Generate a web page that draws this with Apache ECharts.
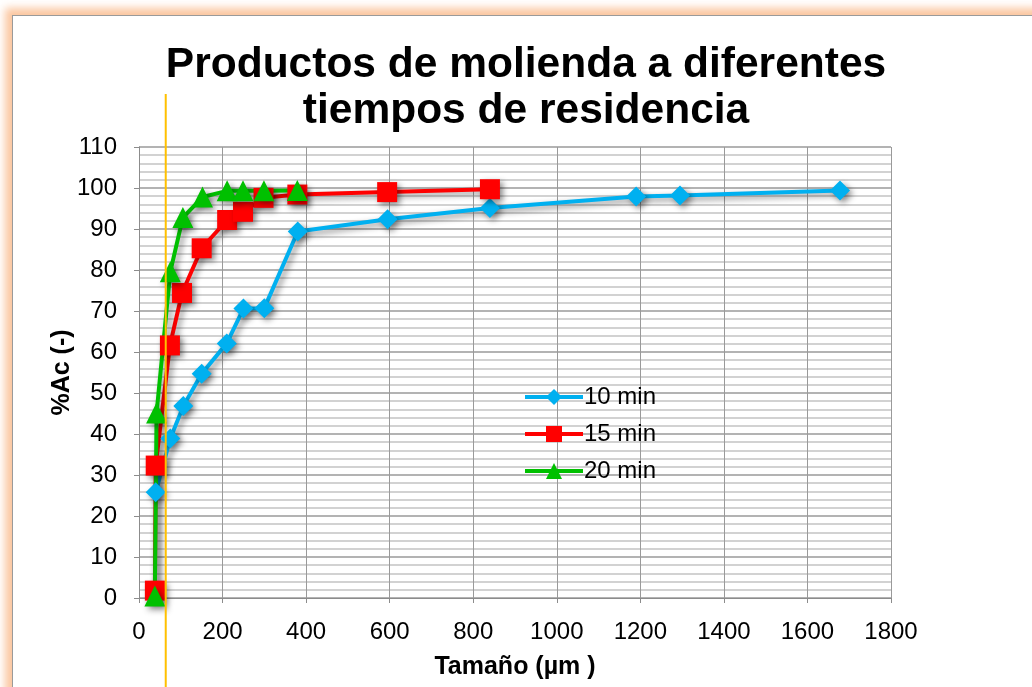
<!DOCTYPE html>
<html>
<head>
<meta charset="utf-8">
<script src="https://cdn.jsdelivr.net/npm/echarts@6/dist/echarts.min.js"></script>
<style>
  html, body { margin: 0; padding: 0; background: #fff; overflow: hidden; }
  .frame {
    position: absolute; left: 12px; top: 15px; width: 1030px; height: 700px;
    border: 1px solid #9a9a9a; background: #fff;
    box-shadow: 0 0 8px 7px rgba(250, 180, 130, 0.75);
  }
  #chart { position: absolute; left: 0; top: 0; width: 1032px; height: 687px; }
</style>
</head>
<body>
<div class="frame"></div>
<div id="chart"></div>
<script>
// tamaño (µm) y %Ac por tiempo de residencia
const size10 = [40, 75, 106, 150, 210, 250, 300, 380, 595, 840, 1190, 1295, 1678];
const ac10 = [25.8, 38.9, 46.8, 54.7, 62.1, 70.6, 70.7, 89.4, 92.4, 95.1, 97.9, 98.2, 99.4];

const size15 = [38, 40, 74, 103, 150, 211, 249, 298, 379, 594, 840];
const ac15 = [1.8, 32.3, 61.6, 74.4, 85.3, 92.2, 94.2, 97.6, 98.4, 99.0, 99.7];

const size20 = [38, 42, 75, 105, 152, 211, 249, 299, 379];
const ac20 = [0.5, 45.1, 79.6, 92.8, 97.8, 99.3, 99.3, 99.3, 99.4];

const cutSize = 64; // línea vertical naranja

const xTicks = [0, 200, 400, 600, 800, 1000, 1200, 1400, 1600, 1800];
const yTicks = [0, 10, 20, 30, 40, 50, 60, 70, 80, 90, 100, 110];

const pairs = (xs, ys) => xs.map((x, i) => [x, ys[i]]);

const chart = echarts.init(document.getElementById('chart'));

const font = 'Liberation Sans, Arial, sans-serif';
const shadow = {
  shadowColor: 'rgba(0,0,0,0.45)',
  shadowBlur: 6,
  shadowOffsetX: 3,
  shadowOffsetY: 3
};

const option = {
  backgroundColor: 'transparent',
  animation: false,
  title: {
    text: 'Productos de molienda a diferentes\ntiempos de residencia',
    left: 521,
    top: 37,
    textAlign: 'center',
    textStyle: {
      fontFamily: font,
      fontSize: 42.5,
      fontWeight: 'bold',
      color: '#000',
      lineHeight: 46
    }
  },
  grid: {
    left: 139,
    right: 141,
    top: 147,
    bottom: 89
  },
  legend: {
    orient: 'vertical',
    left: 518,
    top: 380,
    itemWidth: 58,
    itemHeight: 20,
    itemGap: 13,
    lineStyle: { width: 4 },
    textStyle: { fontFamily: font, fontSize: 24, color: '#000', padding: [0, 0, 0, -4] },
    data: ['10 min', '15 min', '20 min']
  },
  xAxis: {
    type: 'value',
    min: xTicks[0],
    max: xTicks[xTicks.length - 1],
    interval: 200,
    name: 'Tamaño (µm )',
    nameLocation: 'middle',
    nameGap: 57,
    nameMoveOverlap: false,
    nameTextStyle: { fontFamily: font, fontSize: 25, fontWeight: 'bold', color: '#000' },
    axisLine: { show: true, lineStyle: { color: '#8c8c8c', width: 1 } },
    axisTick: { show: true, length: 5, lineStyle: { color: '#8c8c8c' } },
    axisLabel: {
      fontFamily: font, fontSize: 24, color: '#000', margin: 22,
      formatter: v => String(v)
    },
    splitLine: { show: true, lineStyle: { color: '#9a9a9a', width: 1 } }
  },
  yAxis: {
    type: 'value',
    min: yTicks[0],
    max: yTicks[yTicks.length - 1],
    interval: 10,
    name: '%Ac (-)',
    nameLocation: 'middle',
    nameGap: 64,
    nameMoveOverlap: false,
    nameTextStyle: { fontFamily: font, fontSize: 25, fontWeight: 'bold', color: '#000' },
    axisLine: { show: true, lineStyle: { color: '#8c8c8c', width: 1 } },
    axisTick: { show: true, length: 5, lineStyle: { color: '#8c8c8c' } },
    axisLabel: { fontFamily: font, fontSize: 24, color: '#000', margin: 22 },
    splitLine: { show: true, lineStyle: { color: '#9a9a9a', width: 1.5 } },
    minorTick: { show: false, splitNumber: 5 },
    minorSplitLine: { show: true, lineStyle: { color: '#c4c4c4', width: 1.5 } }
  },
  series: [
    {
      name: '10 min',
      type: 'line',
      data: pairs(size10, ac10),
      symbol: 'diamond',
      symbolSize: 20,
      color: '#00b0f0',
      lineStyle: Object.assign({ width: 4, color: '#00b0f0' }, shadow),
      itemStyle: Object.assign({ color: '#00b0f0' }, shadow)
    },
    {
      name: '15 min',
      type: 'line',
      data: pairs(size15, ac15),
      symbol: 'rect',
      symbolSize: 20,
      color: '#ff0000',
      lineStyle: Object.assign({ width: 4, color: '#ff0000' }, shadow),
      itemStyle: Object.assign({ color: '#ff0000' }, shadow)
    },
    {
      name: '20 min',
      type: 'line',
      data: pairs(size20, ac20),
      symbol: 'triangle',
      symbolSize: 21,
      color: '#00c000',
      lineStyle: Object.assign({ width: 4, color: '#00c000' }, shadow),
      itemStyle: Object.assign({ color: '#00c000' }, shadow)
    }
  ]
};

chart.setOption(option);

// línea naranja vertical que sobresale del área del gráfico
const cutX = chart.convertToPixel({ gridIndex: 0 }, [cutSize, 0])[0];
chart.setOption({
  graphic: [{
    type: 'line',
    z: 100,
    shape: { x1: cutX, y1: 94, x2: cutX, y2: 687 },
    style: { stroke: '#ffc000', lineWidth: 2 }
  }]
});
</script>
</body>
</html>
